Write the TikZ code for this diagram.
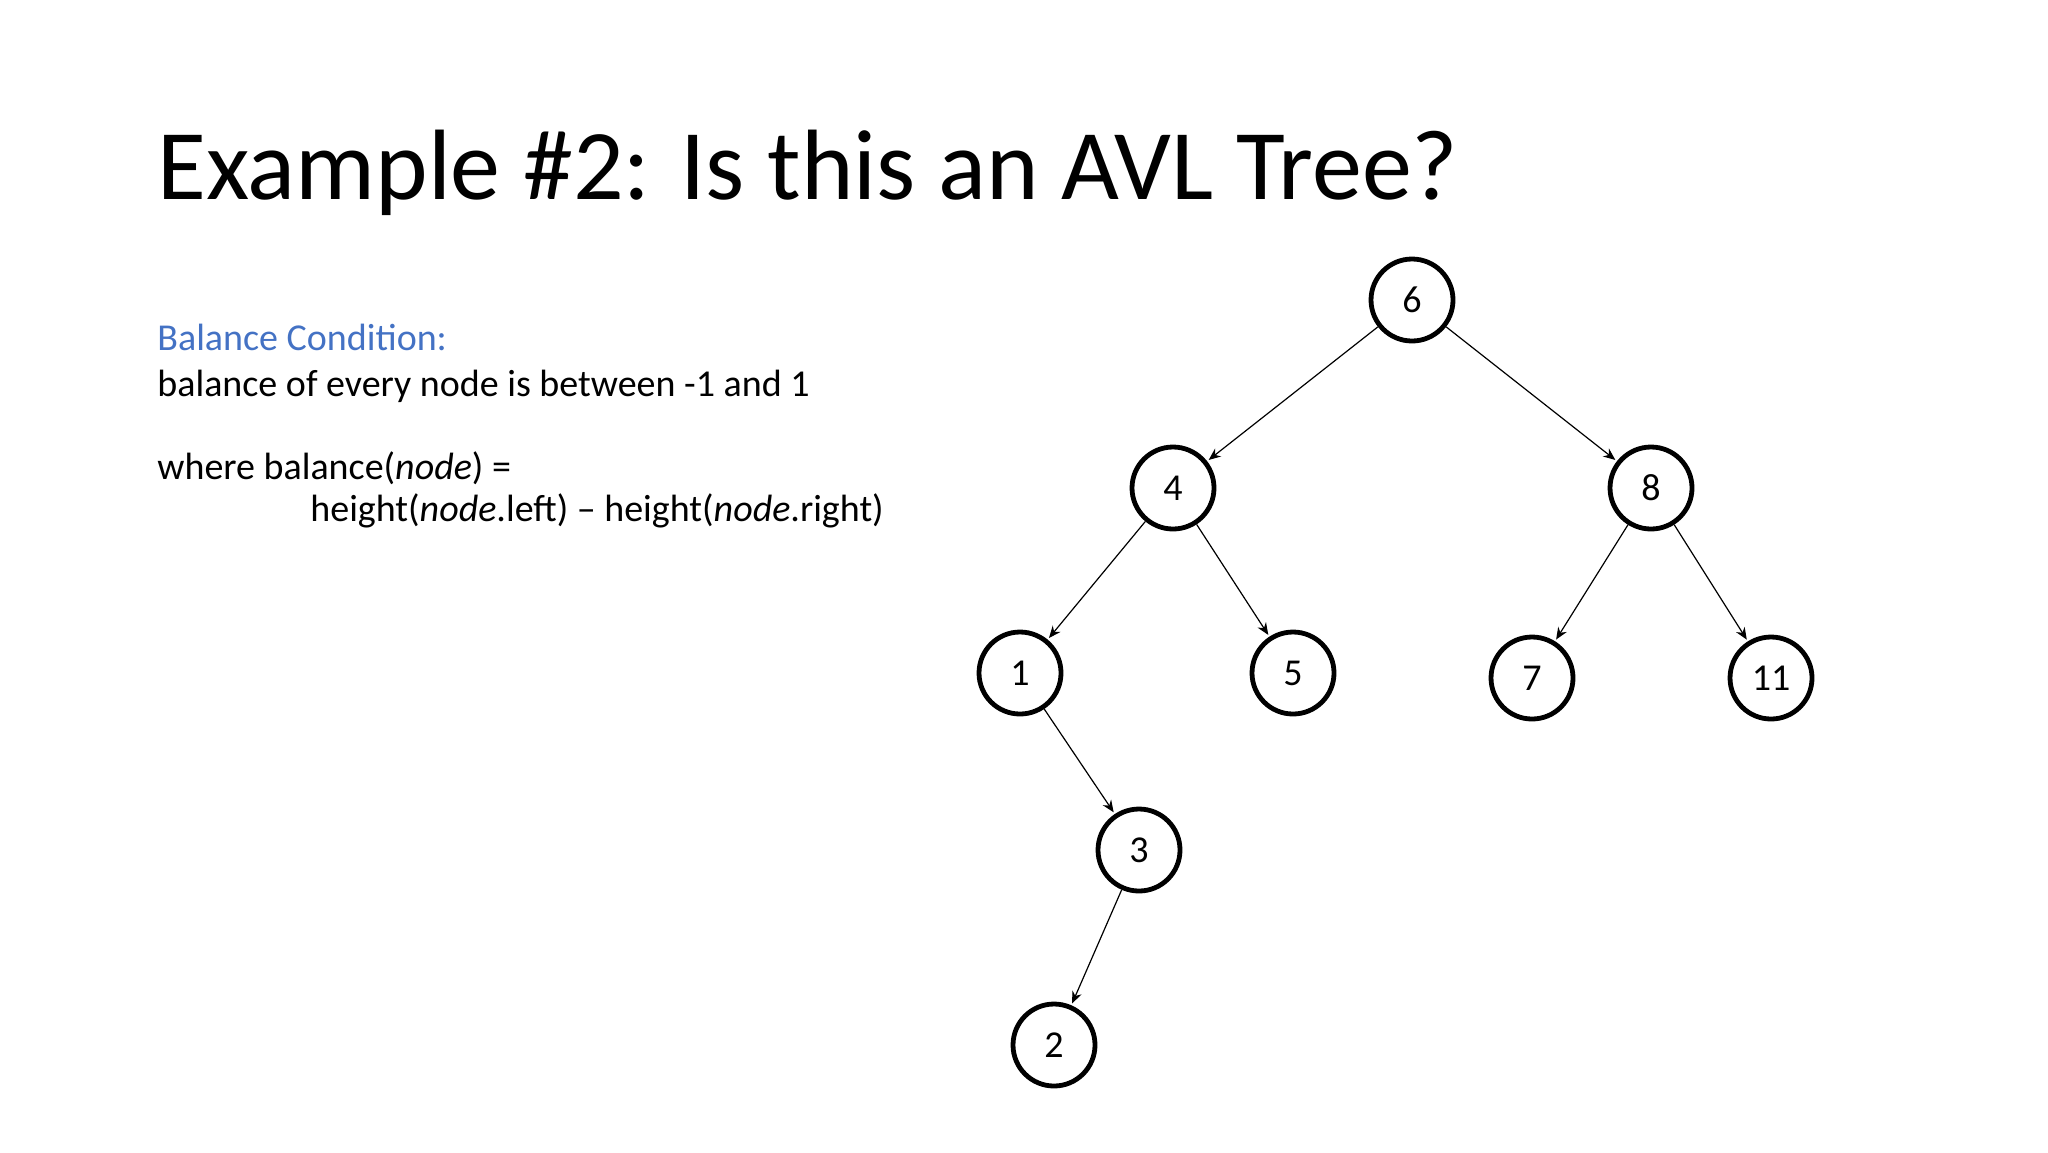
\documentclass[tikz,border=0pt]{standalone}
\usepackage{fontspec}
\setmainfont{Carlito}
\usetikzlibrary{arrows.meta}
\definecolor{bluec}{RGB}{68,114,196}
\begin{document}
\begin{tikzpicture}[x=0.5pt,y=-0.5pt,
  tn/.style={circle,draw,line width=2.4pt,minimum size=41pt,inner sep=0pt,font=\fontsize{19}{22}\selectfont},
  ed/.style={-{Stealth[length=6pt,width=5pt]},line width=0.6pt,shorten >=1pt}]
\useasboundingbox (0,0) rectangle (2048,1152);
\node[anchor=base west,inner sep=0pt,font=\fontsize{50}{60}\selectfont] (title) at (157,199) {Example \#2: Is this an AVL Tree?};
\node[anchor=base west,inner sep=0pt,font=\fontsize{19}{22}\selectfont,text=bluec] (t1) at (157,350) {Balance Condition:};
\node[anchor=base west,inner sep=0pt,font=\fontsize{19}{22}\selectfont] (t2) at (157,396) {balance of every node is between -1 and 1};
\node[anchor=base west,inner sep=0pt,font=\fontsize{19}{22}\selectfont] (t3) at (157,479) {where balance(\textit{node}) =};
\node[anchor=base west,inner sep=0pt,font=\fontsize{19}{22}\selectfont] (t4) at (310,521) {height(\textit{node}.left) – height(\textit{node}.right)};
\node[tn] (n6) at (1412,300) {6};
\node[tn] (n4) at (1173,488) {4};
\node[tn] (n8) at (1651,488) {8};
\node[tn] (n1) at (1020,673) {1};
\node[tn] (n5) at (1293,673) {5};
\node[tn] (n7) at (1532,678) {7};
\node[tn] (n11) at (1771,678) {11};
\node[tn] (n3) at (1139,850) {3};
\node[tn] (n2) at (1054,1045) {2};
\draw[ed] (n6) -- (n4);
\draw[ed] (n6) -- (n8);
\draw[ed] (n4) -- (n1);
\draw[ed] (n4) -- (n5);
\draw[ed] (n8) -- (n7);
\draw[ed] (n8) -- (n11);
\draw[ed] (n1) -- (n3);
\draw[ed] (n3) -- (n2);
\end{tikzpicture}
\end{document}
